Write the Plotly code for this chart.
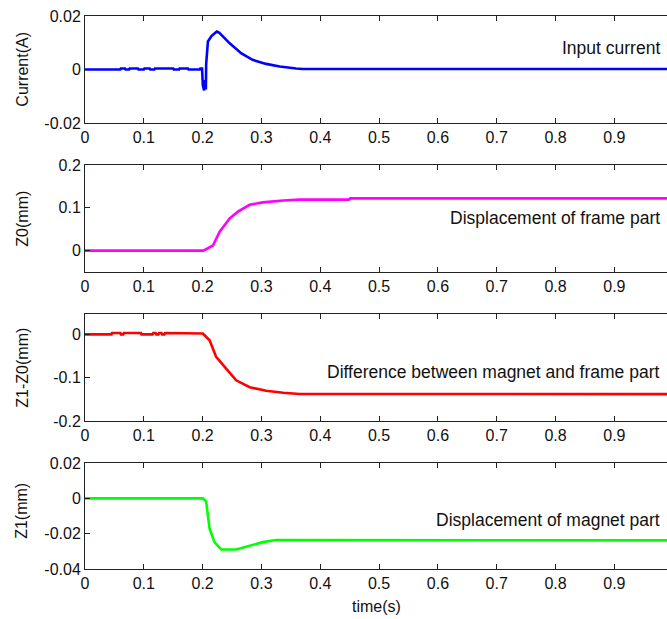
import plotly.graph_objects as go

# ---------------- data ----------------
t_cur = [0.0, 0.06, 0.061, 0.068, 0.069, 0.075, 0.076, 0.09, 0.091, 0.1, 0.101, 0.11, 0.111, 0.118, 0.119, 0.15, 0.151, 0.16, 0.161, 0.175, 0.176, 0.195, 0.196, 0.199, 0.2004, 0.2025, 0.204, 0.2055, 0.206, 0.209, 0.215, 0.220, 0.224, 0.228, 0.246, 0.266, 0.285, 0.308, 0.331, 0.359, 0.37, 0.99]
current = [0.0, 0.0, 0.0004, 0.0004, 0.0, 0.0, 0.0004, 0.0004, 0.0, 0.0, 0.0004, 0.0004, 0.0, 0.0, 0.0004, 0.0004, 0.0, 0.0, 0.0004, 0.0004, 0.0, 0.0, 0.0004, 0.0004, -0.006, -0.0078, -0.004, -0.0075, 0.002, 0.0105, 0.0125, 0.0136, 0.0142, 0.0138, 0.0098, 0.0060, 0.0036, 0.0021, 0.0011, 0.0004, 0.0002, 0.0002]

t_z0 = [0.0, 0.2015, 0.2175, 0.229, 0.246, 0.26, 0.28, 0.302, 0.337, 0.365, 0.449, 0.451, 0.99]
z0 = [0.0, 0.0, 0.012, 0.044, 0.075, 0.091, 0.107, 0.1126, 0.117, 0.119, 0.119, 0.122, 0.122]

t_diff = [0.0, 0.045, 0.046, 0.06, 0.061, 0.065, 0.066, 0.095, 0.096, 0.115, 0.116, 0.12, 0.121, 0.125, 0.126, 0.13, 0.131, 0.135, 0.136, 0.145, 0.146, 0.2004, 0.2118, 0.223, 0.240, 0.257, 0.280, 0.308, 0.337, 0.365, 0.99]
diff = [0.0, 0.0, 0.003, 0.003, 0.0, 0.0, 0.003, 0.003, 0.0, 0.0, 0.003, 0.003, 0.0, 0.0, 0.003, 0.003, 0.0, 0.0, 0.003, 0.003, 0.003, 0.002, -0.0137, -0.052, -0.079, -0.106, -0.122, -0.130, -0.1346, -0.1375, -0.138]

t_z1 = [0.0, 0.2004, 0.206, 0.2118, 0.220, 0.2317, 0.257, 0.274, 0.302, 0.325, 0.99]
z1 = [0.0, 0.0, -0.0019, -0.0171, -0.0248, -0.029, -0.029, -0.0274, -0.0248, -0.0236, -0.0238]

x_ticks = [0, 0.1, 0.2, 0.3, 0.4, 0.5, 0.6, 0.7, 0.8, 0.9]
x_ticklabels = ["0", "0.1", "0.2", "0.3", "0.4", "0.5", "0.6", "0.7", "0.8", "0.9"]
y1_ticks = [-0.02, 0, 0.02]
y1_labels = ["-0.02", "0", "0.02"]
y2_ticks = [0, 0.1, 0.2]
y2_labels = ["0", "0.1", "0.2"]
y3_ticks = [-0.2, -0.1, 0]
y3_labels = ["-0.2", "-0.1", "0"]
y4_ticks = [-0.04, -0.02, 0, 0.02]
y4_labels = ["-0.04", "-0.02", "0", "0.02"]

series_names = ["Input current", "Displacement of frame part",
                "Difference between magnet and frame part", "Displacement of magnet part"]
y_titles = ["Current(A)", "Z0(mm)", "Z1-Z0(mm)", "Z1(mm)"]
colors = ["#0000ff", "#ff00ff", "#ff0000", "#00ff00"]

# ---------------- figure ----------------
FONT = "Liberation Sans Narrow, Liberation Sans, Arial, sans-serif"
fig = go.Figure()

xs = [t_cur, t_z0, t_diff, t_z1]
ys = [current, z0, diff, z1]
domains = [[0.8065, 1.0], [0.537, 0.7306], [0.2676, 0.4611], [0.0, 0.1917]]
yranges = [[-0.02, 0.02], [-0.05, 0.2], [-0.2, 0.047], [-0.04, 0.02]]
ytv = [y1_ticks, y2_ticks, y3_ticks, y4_ticks]
ytt = [y1_labels, y2_labels, y3_labels, y4_labels]
title_y = [0.5, 0.5, 0.5, 0.55]
label_pix = [48, 218, 372, 520]

for i in range(4):
    k = "" if i == 0 else str(i + 1)
    fig.add_trace(go.Scatter(x=xs[i], y=ys[i], mode="lines",
                             line=dict(color=colors[i], width=2.6),
                             xaxis="x" + k, yaxis="y" + k, showlegend=False))
    axis_common = dict(showgrid=False, zeroline=False, showline=True, linecolor="#222",
                       linewidth=1, ticks="inside", ticklen=5, tickcolor="#222",
                       tickfont=dict(family=FONT, size=16, color="#111"))
    fig.layout["xaxis" + k] = dict(axis_common, range=[0, 0.9895], anchor="y" + k,
                                   tickvals=x_ticks, ticktext=x_ticklabels, mirror="ticks")
    fig.layout["yaxis" + k] = dict(axis_common, range=yranges[i], anchor="x" + k,
                                   domain=domains[i], tickvals=ytv[i], ticktext=ytt[i],
                                   mirror=False)
    d0, d1 = domains[i]
    fig.add_annotation(text=series_names[i], xref="paper", yref="paper",
                       x=0.991, y=(569 - label_pix[i]) / 553, showarrow=False,
                       xanchor="right", yanchor="middle",
                       font=dict(family=FONT, size=17.5, color="#111"))
    fig.add_annotation(text=y_titles[i], xref="paper", yref="paper",
                       x=-0.108, y=d0 + (d1 - d0) * title_y[i], showarrow=False,
                       textangle=-90, xanchor="center", yanchor="middle",
                       font=dict(family=FONT, size=16, color="#111"))

fig.add_annotation(text="time(s)", xref="paper", yref="paper", x=(376 - 85) / 582,
                   y=(569 - 606) / 553, showarrow=False, xanchor="center", yanchor="middle",
                   font=dict(family=FONT, size=16, color="#111"))

fig.update_layout(width=667, height=619, margin=dict(l=85, r=0, t=16, b=50),
                  paper_bgcolor="white", plot_bgcolor="white")

fig.write_html("out.html")
